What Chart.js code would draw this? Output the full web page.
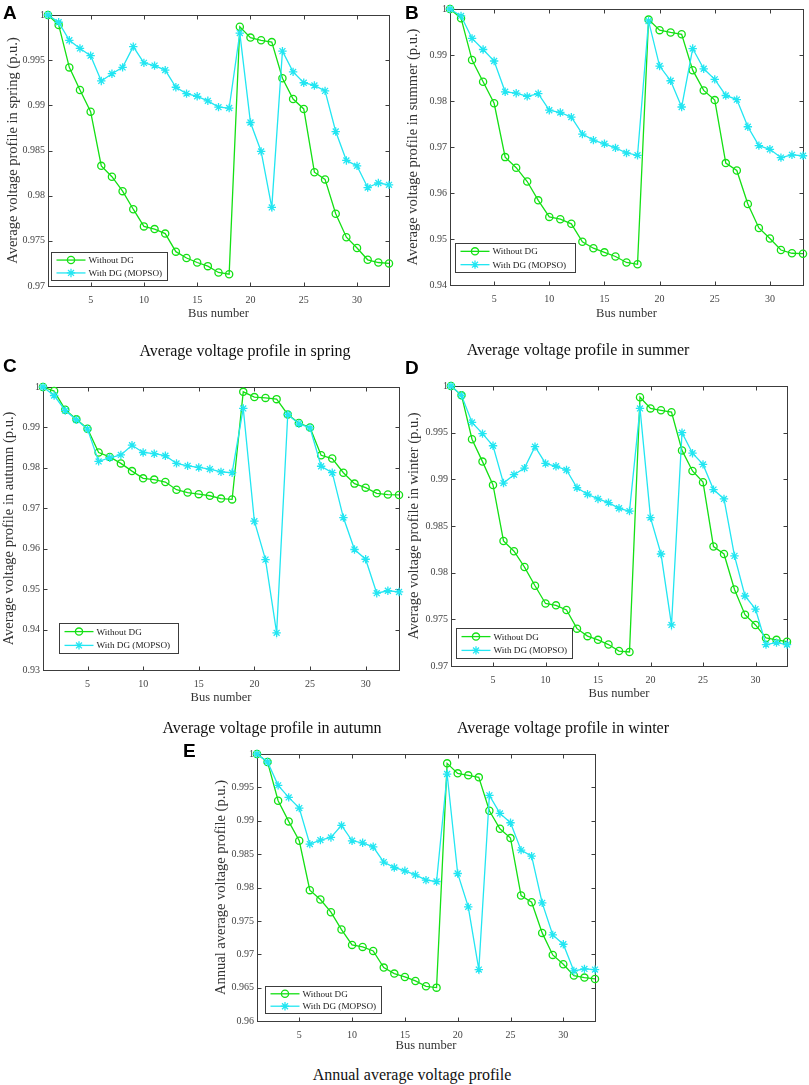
<!DOCTYPE html>
<html>
<head>
<meta charset="utf-8">
<script src="https://cdn.jsdelivr.net/npm/chart.js@4.4.1/dist/chart.umd.min.js"></script>
<style>
  body { margin: 0; background: #fff; width: 809px; height: 1085px; position: relative; overflow: hidden; font-family: "Liberation Serif", "Times New Roman", serif; }
  canvas { position: absolute; }
  .tag { position: absolute; font: bold 19px "Liberation Sans", Arial, sans-serif; color: #000; line-height: 1; }
  .cap { position: absolute; font-size: 16px; color: #111; white-space: nowrap; transform: translateX(-50%); line-height: 1; }
</style>
</head>
<body>
<canvas id="chartA" width="400" height="325" style="left:0px;top:0px"></canvas>
<canvas id="chartB" width="409" height="325" style="left:400px;top:0px"></canvas>
<canvas id="chartC" width="409" height="349" style="left:0px;top:360px"></canvas>
<canvas id="chartD" width="409" height="345" style="left:400px;top:360px"></canvas>
<canvas id="chartE" width="420" height="317" style="left:190px;top:740px"></canvas>

<div class="tag" style="left:3px;top:3px">A</div>
<div class="tag" style="left:405px;top:3px">B</div>
<div class="tag" style="left:3px;top:356px">C</div>
<div class="tag" style="left:405px;top:358px">D</div>
<div class="tag" style="left:183px;top:741px">E</div>

<div class="cap" style="left:245px;top:343px">Average voltage profile in spring</div>
<div class="cap" style="left:578px;top:342px">Average voltage profile in summer</div>
<div class="cap" style="left:272px;top:720px">Average voltage profile in autumn</div>
<div class="cap" style="left:563px;top:720px">Average voltage profile in winter</div>
<div class="cap" style="left:412px;top:1067px">Annual average voltage profile</div>

<script>
// bus index along the feeder
const busNumbers = [1, 2, 3, 4, 5, 6, 7, 8, 9, 10, 11, 12, 13, 14, 15, 16, 17,
                    18, 19, 20, 21, 22, 23, 24, 25, 26, 27, 28, 29, 30, 31, 32, 33];
const seriesNames = ["Without DG", "With DG (MOPSO)"];
const xTicks = [5, 10, 15, 20, 25, 30];

// voltages (p.u.)
const springWithout = [1.0000, 0.9989, 0.9942, 0.9917, 0.9893, 0.9833, 0.9821, 0.9805, 0.9785, 0.9766, 0.9763, 0.9758, 0.9738, 0.9731, 0.9726, 0.9722, 0.9715,
                       0.9713, 0.9987, 0.9975, 0.9972, 0.9970, 0.9930, 0.9907, 0.9896, 0.9826, 0.9818, 0.9780, 0.9754, 0.9742, 0.9729, 0.9726, 0.9725];
const springWith = [1.0000, 0.9992, 0.9972, 0.9963, 0.9955, 0.9927, 0.9935, 0.9942, 0.9965, 0.9947, 0.9944, 0.9939, 0.9920, 0.9913, 0.9910, 0.9905, 0.9898,
                    0.9897, 0.9980, 0.9881, 0.9849, 0.9787, 0.9960, 0.9937, 0.9925, 0.9922, 0.9916, 0.9871, 0.9839, 0.9833, 0.9809, 0.9814, 0.9812];

const summerWithout = [1.0000, 0.9980, 0.9889, 0.9842, 0.9795, 0.9678, 0.9655, 0.9625, 0.9584, 0.9548, 0.9543, 0.9533, 0.9494, 0.9480, 0.9471, 0.9462, 0.9449,
                       0.9445, 0.9977, 0.9954, 0.9949, 0.9945, 0.9867, 0.9823, 0.9802, 0.9665, 0.9649, 0.9576, 0.9524, 0.9501, 0.9476, 0.9469, 0.9468];
const summerWith = [1.0000, 0.9985, 0.9936, 0.9912, 0.9887, 0.9820, 0.9817, 0.9810, 0.9816, 0.9780, 0.9775, 0.9765, 0.9728, 0.9715, 0.9707, 0.9698, 0.9687,
                    0.9682, 0.9974, 0.9876, 0.9844, 0.9787, 0.9914, 0.9870, 0.9847, 0.9812, 0.9803, 0.9744, 0.9703, 0.9695, 0.9677, 0.9683, 0.9681];

const autumnWithout = [1.0000, 0.9990, 0.9944, 0.9920, 0.9897, 0.9838, 0.9827, 0.9811, 0.9792, 0.9774, 0.9771, 0.9765, 0.9746, 0.9739, 0.9735, 0.9731, 0.9724,
                       0.9722, 0.9988, 0.9975, 0.9973, 0.9970, 0.9932, 0.9911, 0.9900, 0.9831, 0.9823, 0.9788, 0.9761, 0.9751, 0.9737, 0.9734, 0.9733];
const autumnWith = [1.0000, 0.9979, 0.9942, 0.9919, 0.9896, 0.9816, 0.9825, 0.9832, 0.9856, 0.9838, 0.9835, 0.9830, 0.9811, 0.9805, 0.9801, 0.9797, 0.9790,
                    0.9788, 0.9947, 0.9668, 0.9573, 0.9392, 0.9932, 0.9909, 0.9899, 0.9804, 0.9788, 0.9677, 0.9598, 0.9574, 0.9490, 0.9496, 0.9493];

const winterWithout = [1.0000, 0.9990, 0.9943, 0.9919, 0.9894, 0.9834, 0.9823, 0.9806, 0.9786, 0.9767, 0.9765, 0.9760, 0.9740, 0.9732, 0.9728, 0.9723, 0.9716,
                       0.9715, 0.9988, 0.9976, 0.9974, 0.9972, 0.9931, 0.9909, 0.9897, 0.9828, 0.9820, 0.9782, 0.9755, 0.9744, 0.9730, 0.9728, 0.9726];
const winterWith = [1.0000, 0.9990, 0.9961, 0.9949, 0.9936, 0.9896, 0.9905, 0.9912, 0.9935, 0.9917, 0.9914, 0.9910, 0.9891, 0.9884, 0.9879, 0.9875, 0.9869,
                    0.9866, 0.9976, 0.9859, 0.9820, 0.9744, 0.9950, 0.9928, 0.9916, 0.9889, 0.9879, 0.9818, 0.9775, 0.9761, 0.9723, 0.9725, 0.9723];

const annualWithout = [1.0000, 0.9988, 0.9930, 0.9899, 0.9870, 0.9796, 0.9782, 0.9763, 0.9737, 0.9714, 0.9711, 0.9705, 0.9680, 0.9671, 0.9666, 0.9660, 0.9652,
                       0.9650, 0.9986, 0.9971, 0.9968, 0.9965, 0.9915, 0.9888, 0.9874, 0.9788, 0.9778, 0.9732, 0.9699, 0.9685, 0.9668, 0.9665, 0.9663];
const annualWith = [1.0000, 0.9988, 0.9953, 0.9935, 0.9919, 0.9865, 0.9871, 0.9875, 0.9893, 0.9870, 0.9867, 0.9861, 0.9838, 0.9830, 0.9825, 0.9819, 0.9811,
                    0.9809, 0.9970, 0.9821, 0.9771, 0.9677, 0.9938, 0.9911, 0.9897, 0.9856, 0.9847, 0.9777, 0.9729, 0.9715, 0.9675, 0.9678, 0.9677];

const yTicksSpring = [0.97, 0.975, 0.98, 0.985, 0.99, 0.995, 1];
const yTicksSummer = [0.94, 0.95, 0.96, 0.97, 0.98, 0.99, 1];
const yTicksAutumn = [0.93, 0.94, 0.95, 0.96, 0.97, 0.98, 0.99, 1];
const yTicksWinter = [0.97, 0.975, 0.98, 0.985, 0.99, 0.995, 1];
const yTicksAnnual = [0.96, 0.965, 0.97, 0.975, 0.98, 0.985, 0.99, 0.995, 1];

const GREEN = "#14e014";
const CYAN = "#22e6f2";
const FRAME = "#3c3c3c";

Chart.defaults.font.family = '"Liberation Serif", "Times New Roman", serif';

function drawMarker(ctx, style, x, y, r, color) {
    ctx.strokeStyle = color;
    ctx.lineWidth = 1.3;
    ctx.beginPath();
    if (style === "circle") {
        ctx.arc(x, y, r, 0, Math.PI * 2);
    } else {
        for (let k = 0; k < 4; k++) {
            const a = k * Math.PI / 4;
            ctx.moveTo(x - r * Math.cos(a), y - r * Math.sin(a));
            ctx.lineTo(x + r * Math.cos(a), y + r * Math.sin(a));
        }
    }
    ctx.stroke();
}

// matlab style box with inward ticks, and the legend box
const matlabAxes = {
    id: "matlabAxes",
    beforeDatasetsDraw(chart) {
        const { ctx, chartArea: a, scales: { x, y } } = chart;
        ctx.save();
        ctx.strokeStyle = FRAME;
        ctx.lineWidth = 1;
        const l = Math.round(a.left) + 0.5, t = Math.round(a.top) + 0.5;
        const r = Math.round(a.right) + 0.5, b = Math.round(a.bottom) + 0.5;
        ctx.strokeRect(l, t, r - l, b - t);
        ctx.beginPath();
        x.ticks.forEach(tk => {
            const px = Math.round(x.getPixelForValue(tk.value)) + 0.5;
            ctx.moveTo(px, b); ctx.lineTo(px, b - 4);
            ctx.moveTo(px, t); ctx.lineTo(px, t + 4);
        });
        y.ticks.forEach(tk => {
            const py = Math.round(y.getPixelForValue(tk.value)) + 0.5;
            ctx.moveTo(l, py); ctx.lineTo(l + 4, py);
            ctx.moveTo(r, py); ctx.lineTo(r - 4, py);
        });
        ctx.stroke();
        ctx.restore();
    },
    afterDatasetsDraw(chart, args, opts) {
        const { ctx, chartArea: a } = chart;
        const w = opts.w, h = opts.h;
        const bx = Math.round(a.left + opts.dx) + 0.5;
        const by = Math.round(a.bottom - opts.gap - h) + 0.5;
        ctx.save();
        ctx.fillStyle = "#fff";
        ctx.fillRect(bx, by, w, h);
        ctx.strokeStyle = FRAME;
        ctx.lineWidth = 1;
        ctx.strokeRect(bx, by, w, h);
        ctx.font = '9.2px "Liberation Serif", serif';
        ctx.textBaseline = "middle";
        chart.data.datasets.forEach((ds, i) => {
            const ry = by + h * (i === 0 ? 0.27 : 0.73);
            ctx.strokeStyle = ds.borderColor;
            ctx.lineWidth = 1.3;
            ctx.beginPath();
            ctx.moveTo(bx + 5, ry); ctx.lineTo(bx + 34, ry);
            ctx.stroke();
            drawMarker(ctx, ds.pointStyle, bx + 19.5, ry, ds.pointRadius, ds.borderColor);
            ctx.fillStyle = "#222";
            ctx.fillText(ds.label, bx + 37, ry + 0.5);
        });
        ctx.restore();
    }
};

function fmt(v) {
    return v === 1 ? "1" : String(Number(v.toFixed(3)));
}

function makePanel(id, p) {
    new Chart(document.getElementById(id), {
        type: "line",
        data: {
            datasets: [
                {
                    label: seriesNames[0],
                    data: busNumbers.map((b, i) => ({ x: b, y: p.without[i] })),
                    borderColor: GREEN,
                    backgroundColor: "rgba(0,0,0,0)",
                    borderWidth: 1.3,
                    pointStyle: "circle",
                    pointRadius: 3.6,
                    pointBorderWidth: 1.3,
                    pointBorderColor: GREEN,
                    pointBackgroundColor: "rgba(0,0,0,0)",
                    tension: 0,
                    clip: false,
                    order: 1,
                },
                {
                    label: seriesNames[1],
                    data: busNumbers.map((b, i) => ({ x: b, y: p.withDG[i] })),
                    borderColor: CYAN,
                    backgroundColor: "rgba(0,0,0,0)",
                    borderWidth: 1.3,
                    pointStyle: "star",
                    pointRadius: 4.2,
                    pointBorderWidth: 1.3,
                    pointBorderColor: CYAN,
                    pointBackgroundColor: CYAN,
                    tension: 0,
                    clip: false,
                    order: 0,
                },
            ],
        },
        options: {
            responsive: false,
            animation: false,
            events: [],
            layout: { padding: { left: p.padL, top: p.padT, right: p.padR, bottom: 0 } },
            plugins: {
                legend: { display: false },
                tooltip: { enabled: false },
                matlabAxes: p.legend,
            },
            scales: {
                x: {
                    type: "linear",
                    min: 1,
                    max: 33,
                    grid: { display: false, drawTicks: false },
                    border: { display: false },
                    ticks: { padding: 8, color: "#444", font: { size: 10 }, autoSkip: false, maxRotation: 0 },
                    afterBuildTicks: s => { s.ticks = xTicks.map(v => ({ value: v })); },
                    afterFit: s => { s.height = p.xH; },
                    title: { display: true, text: "Bus number", color: "#333", font: { size: 12.5 }, padding: { top: 0, bottom: 4 } },
                },
                y: {
                    type: "linear",
                    min: p.yTicks[0],
                    max: p.yTicks[p.yTicks.length - 1],
                    grid: { display: false, drawTicks: false },
                    border: { display: false },
                    ticks: { padding: 3, color: "#444", font: { size: 10 }, autoSkip: false, callback: v => fmt(v) },
                    afterBuildTicks: s => { s.ticks = p.yTicks.map(v => ({ value: v })); },
                    afterFit: s => { s.width = p.yW; },
                    title: { display: true, text: p.yTitle, color: "#333", font: { size: 14.5 }, padding: { top: p.tPad, bottom: 0 } },
                },
            },
        },
        plugins: [matlabAxes],
    });
}

makePanel("chartA", {
    without: springWithout, withDG: springWith, yTicks: yTicksSpring,
    yTitle: "Average voltage profile in spring (p.u.)",
    padL: 0, padT: 15, padR: 11, yW: 48, xH: 39, tPad: 4,
    legend: { dx: 3, gap: 6, w: 116, h: 28 },
});
makePanel("chartB", {
    without: summerWithout, withDG: summerWith, yTicks: yTicksSummer,
    yTitle: "Average voltage profile in summer (p.u.)",
    padL: 0, padT: 5, padR: 6, yW: 50, xH: 40, tPad: 4,
    legend: { dx: 5, gap: 13, w: 120, h: 29 },
});
makePanel("chartC", {
    without: autumnWithout, withDG: autumnWith, yTicks: yTicksAutumn,
    yTitle: "Average voltage profile in autumn (p.u.)",
    padL: 0, padT: 27, padR: 10, yW: 43, xH: 39, tPad: 0,
    legend: { dx: 16, gap: 17, w: 119, h: 30 },
});
makePanel("chartD", {
    without: winterWithout, withDG: winterWith, yTicks: yTicksWinter,
    yTitle: "Average voltage profile in winter (p.u.)",
    padL: 0, padT: 26, padR: 22, yW: 51, xH: 39, tPad: 5,
    legend: { dx: 5, gap: 8, w: 116, h: 30 },
});
makePanel("chartE", {
    without: annualWithout, withDG: annualWith, yTicks: yTicksAnnual,
    yTitle: "Annual average voltage profile (p.u.)",
    padL: 18, padT: 14, padR: 15, yW: 49, xH: 36, tPad: 4,
    legend: { dx: 8, gap: 8, w: 116, h: 27 },
});
</script>
</body>
</html>
